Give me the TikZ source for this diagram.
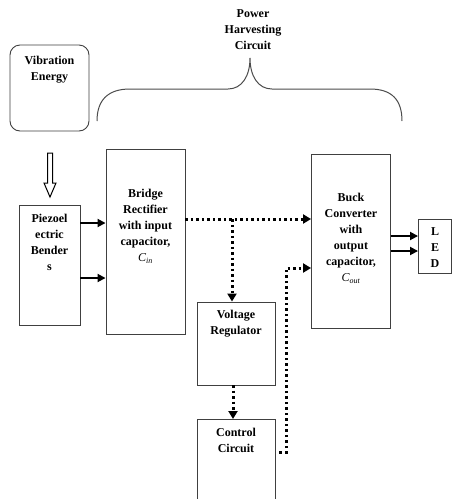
\documentclass[tikz,border=0pt]{standalone}
\usepackage{fontspec}
\setmainfont{Liberation Serif}
\usetikzlibrary{arrows.meta}
\begin{document}
\begin{tikzpicture}[x=1pt,y=-1pt,
  box/.style={draw=black!75, line width=0.9pt, inner sep=0pt},
  rbox/.style={box, rounded corners=10pt},
  txt/.style={align=center, inner sep=0pt, font=\fontsize{12}{16}\selectfont\bfseries},
  solidarrow/.style={line width=1.8pt, -{Triangle[length=8pt,width=8pt]}},
  dotline/.style={line width=3pt, dash pattern=on 2.5pt off 3pt},
  dotarrow/.style={dotline, -{Triangle[length=8pt,width=9pt]}},
  brace/.style={draw=black!70, line width=1pt}
]
\clip (0,0) rectangle (453,499);
\fill[white] (0,0) rectangle (453,499);

% boxes
\node[rbox, minimum width=79pt, minimum height=86pt] (vib) at (49.5,88) {};
\node[box, minimum width=61pt, minimum height=120pt] (piezo) at (49.5,265) {};
\node[box, minimum width=79pt, minimum height=185pt] (bridge) at (145.5,241.5) {};
\node[box, minimum width=79pt, minimum height=174pt] (buck) at (351,241) {};
\node[box, minimum width=33pt, minimum height=54pt] (led) at (435,246) {};
\node[box, minimum width=78pt, minimum height=83pt] (vr) at (236,343.5) {};
\node[box, minimum width=78pt, minimum height=100pt] (ctrl) at (236,469) {};

% texts
\node[txt] (vib-t) at (49.5,70) {Vibration\\Energy};
\node[txt] (title) at (253,30) {Power\\Harvesting\\Circuit};
\node[txt] (piezo-t) at (49.5,242.5) {Piezoel\\ectric\\Bender\\s};
\node[txt] (bridge-t) at (145.5,226) {Bridge\\Rectifier\\with input\\capacitor,\\{\normalfont\itshape C\textsubscript{in}}};
\node[txt] (buck-t) at (351,238.5) {Buck\\Converter\\with\\output\\capacitor,\\{\normalfont\itshape C\textsubscript{out}}};
\node[txt] (led-t) at (435,248) {L\\E\\D};
\node[txt] (vr-t) at (236,324) {Voltage\\Regulator};
\node[txt] (ctrl-t) at (236,440.5) {Control\\Circuit};

% brace
\draw[brace] (97,121) .. controls (97,100) and (108,89) .. (130,89) -- (228,89)
  .. controls (242,89) and (250,76) .. (250,58)
  .. controls (250,76) and (258,89) .. (272,89) -- (370,89)
  .. controls (392,89) and (402,100) .. (402,121);

% hollow arrow from vibration to piezo
\draw[line width=1pt, fill=white] (47.5,153) -- (52.5,153) -- (52.5,183) -- (56,183)
  -- (50,197) -- (44,183) -- (47.5,183) -- cycle;

% piezo to bridge
\draw[solidarrow] (piezo.east |- 0,223) -- (bridge.west |- 0,223);
\draw[solidarrow] (piezo.east |- 0,278) -- (bridge.west |- 0,278);

% buck to LED
\draw[solidarrow] (buck.east |- 0,236) -- (led.west |- 0,236);
\draw[solidarrow] (buck.east |- 0,251) -- (led.west |- 0,251);

% dotted connectors
\coordinate (jn) at (232,219);
\draw[dotarrow] (jn -| bridge.east) -- (jn -| buck.west);
\draw[dotarrow] (jn) -- (jn |- vr.north);
\draw[dotarrow] (233,385) -- (233,419);
\coordinate (cb) at (286,268);
\draw[dotarrow] (279,452) -- (cb |- 0,452) -- (cb) -- (cb -| buck.west);
\end{tikzpicture}
\end{document}
